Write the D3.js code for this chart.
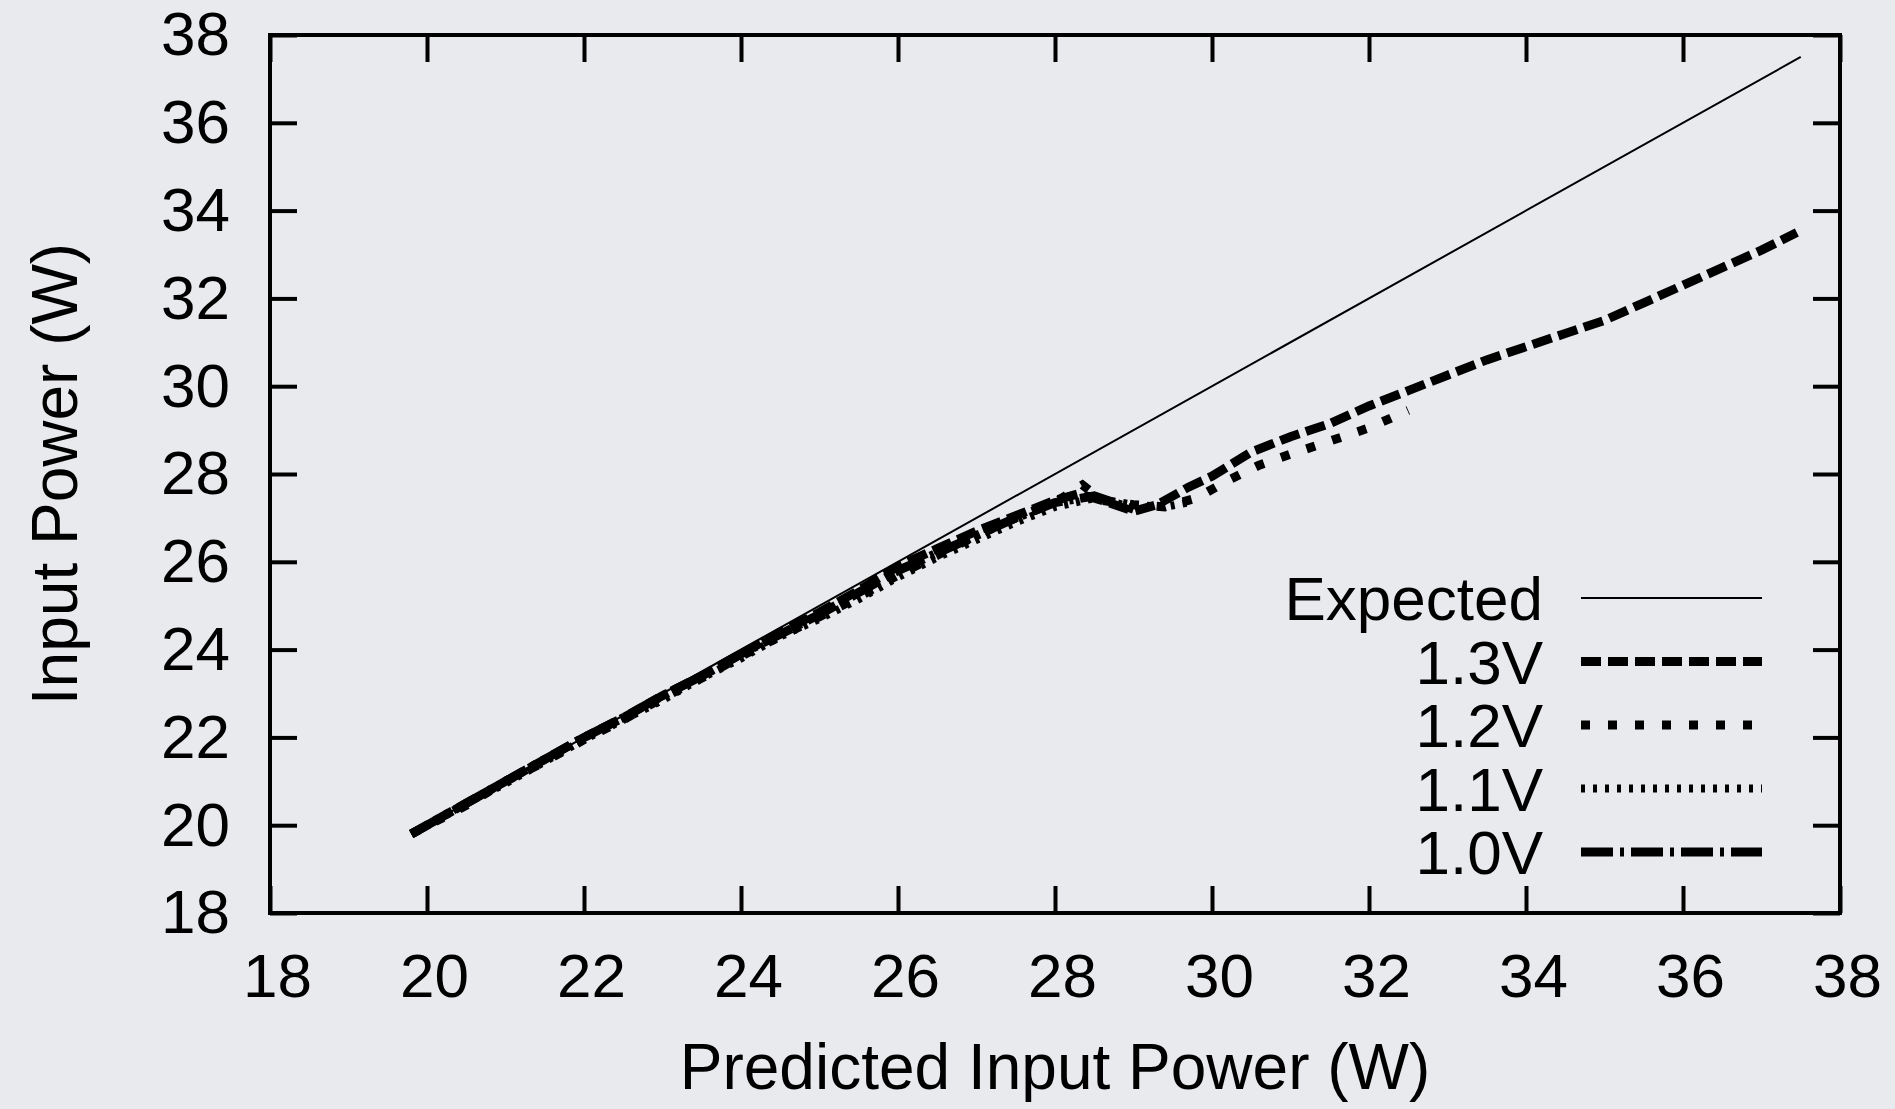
<!DOCTYPE html>
<html>
<head>
<meta charset="utf-8">
<script src="https://cdn.jsdelivr.net/npm/d3@7"></script>
<style>
  html, body { margin: 0; padding: 0; background: #e9eaee; }
  svg { display: block; }
  text { font-family: "Liberation Sans", Arial, Helvetica, sans-serif; fill: #000; }
</style>
</head>
<body>
<svg width="1895" height="1109"></svg>
<script>
// tick labels for both axes
const xTicks = [18, 20, 22, 24, 26, 28, 30, 32, 34, 36, 38];
const yTicks = [18, 20, 22, 24, 26, 28, 30, 32, 34, 36, 38];

const seriesNames = ["Expected", "1.3V", "1.2V", "1.1V", "1.0V"];

// predicted input power (x) and measured input power (y) per series
const expectedX = [19.8, 37.5];
const expectedY = [19.8, 37.5];

const v13X = [19.8, 20.5, 21, 21.5, 22, 22.5, 23, 23.5, 24, 24.5, 25, 25.5, 26, 26.5, 27, 27.5, 28, 28.3, 28.6, 29, 29.3, 29.7, 30, 30.5, 31, 31.5, 32, 32.5, 33, 33.5, 34, 34.5, 35, 35.5, 36, 36.5, 37, 37.45];
const v13Y = [19.8, 20.5, 21.0, 21.5, 22.0, 22.45, 22.95, 23.4, 23.9, 24.4, 24.85, 25.35, 25.9, 26.3, 26.7, 27.05, 27.4, 27.55, 27.4, 27.15, 27.3, 27.7, 27.95, 28.5, 28.85, 29.15, 29.55, 29.9, 30.25, 30.6, 30.9, 31.2, 31.5, 31.9, 32.3, 32.7, 33.1, 33.5];

const v12X = [19.8, 20.5, 21, 21.5, 22, 22.5, 23, 23.5, 24, 24.5, 25, 25.5, 26, 26.5, 27, 27.5, 28, 28.35, 28.6, 29, 29.4, 29.8, 30.2, 30.6, 31, 31.5, 32, 32.5];
const v12Y = [19.8, 20.45, 21.0, 21.45, 21.95, 22.4, 22.9, 23.35, 23.85, 24.3, 24.75, 25.2, 25.7, 26.15, 26.6, 27.0, 27.35, 27.75, 27.4, 27.3, 27.25, 27.45, 27.85, 28.2, 28.45, 28.75, 29.05, 29.45];

const v11X = [19.8, 20.5, 21, 21.5, 22, 22.5, 23, 23.5, 24, 24.5, 25, 25.5, 26, 26.5, 27, 27.5, 28, 28.5, 29, 29.4, 29.7];
const v11Y = [19.8, 20.5, 20.95, 21.45, 21.95, 22.4, 22.85, 23.35, 23.8, 24.3, 24.7, 25.15, 25.65, 26.1, 26.5, 26.9, 27.25, 27.45, 27.3, 27.25, 27.35];

const v10X = [19.8, 20.5, 21, 21.5, 22, 22.5, 23, 23.5, 24, 24.5, 25, 25.5, 26, 26.5, 27, 27.5, 28, 28.5, 29];
const v10Y = [19.8, 20.5, 21.0, 21.5, 22.0, 22.45, 22.95, 23.4, 23.9, 24.35, 24.8, 25.3, 25.8, 26.2, 26.6, 27.0, 27.35, 27.5, 27.2];

const svg = d3.select("svg"),
  margin = { top: 35, right: 55, bottom: 196, left: 270 },
  width = 1895 - margin.left - margin.right,
  height = 1109 - margin.top - margin.bottom,
  fontSize = 62,
  titleSize = 64;

const x = d3.scaleLinear().domain([18, 38]).range([0, width]);
const y = d3.scaleLinear().domain([18, 38]).range([height, 0]);

const g = svg.append("g").attr("transform", `translate(${margin.left},${margin.top})`);

//series table built from the arrays above
const series = [
  { name: seriesNames[0], xs: expectedX, ys: expectedY, width: 2, dash: null },
  { name: seriesNames[1], xs: v13X, ys: v13Y, width: 9, dash: "20,7" },
  { name: seriesNames[2], xs: v12X, ys: v12Y, width: 9, dash: "9,18" },
  { name: seriesNames[3], xs: v11X, ys: v11Y, width: 8, dash: "4,8" },
  { name: seriesNames[4], xs: v10X, ys: v10Y, width: 9, dash: "32,7,4,7" },
].map((s) => ({ ...s, points: s.xs.map((v, i) => [v, s.ys[i]]) }));

const line = d3.line().x((d) => x(d[0])).y((d) => y(d[1]));

// axes, ticks pointing inward on all four sides
const tickLen = 27;
const styleAxis = (a) => {
  a.select(".domain").remove();
  a.selectAll(".tick line").attr("stroke", "#000").attr("stroke-width", 4);
  a.selectAll(".tick text").attr("font-size", fontSize).attr("fill", "#000");
};

g.append("g")
  .attr("transform", `translate(0,${height})`)
  .call(d3.axisBottom(x).tickValues(xTicks).tickSize(-tickLen).tickPadding(40).tickFormat(d3.format("d")))
  .call(styleAxis)
  .call((a) => a.selectAll(".tick text").attr("dx", 7));

g.append("g")
  .call(d3.axisLeft(y).tickValues(yTicks).tickSize(-tickLen).tickPadding(40).tickFormat(d3.format("d")))
  .call(styleAxis);

g.append("g")
  .call(d3.axisTop(x).tickValues(xTicks).tickSize(-tickLen).tickFormat(""))
  .call(styleAxis);

g.append("g")
  .attr("transform", `translate(${width},0)`)
  .call(d3.axisRight(y).tickValues(yTicks).tickSize(-tickLen).tickFormat(""))
  .call(styleAxis);

// frame
g.append("rect")
  .attr("width", width)
  .attr("height", height)
  .attr("fill", "none")
  .attr("stroke", "#000")
  .attr("stroke-width", 4);

// data lines
g.selectAll(".series")
  .data(series)
  .join("path")
  .attr("class", "series")
  .attr("d", (d) => line(d.points))
  .attr("fill", "none")
  .attr("stroke", "#000")
  .attr("stroke-width", (d) => d.width)
  .attr("stroke-dasharray", (d) => d.dash);

// legend
const legend = g.append("g").attr("transform", `translate(${1543 - margin.left},${598 - margin.top})`);
const rowH = 63.5;
const rows = legend.selectAll("g").data(series).join("g").attr("transform", (d, i) => `translate(0,${i * rowH})`);
rows.append("text")
  .attr("text-anchor", "end")
  .attr("y", 22)
  .attr("font-size", fontSize)
  .text((d) => d.name);
rows.append("line")
  .attr("x1", 38)
  .attr("x2", 219)
  .attr("stroke", "#000")
  .attr("stroke-width", (d) => d.width)
  .attr("stroke-dasharray", (d) => d.dash);

// axis titles
svg.append("text")
  .attr("x", margin.left + width / 2)
  .attr("y", 1089)
  .attr("text-anchor", "middle")
  .attr("font-size", titleSize)
  .text("Predicted Input Power (W)");

svg.append("text")
  .attr("transform", `translate(77,${margin.top + height / 2}) rotate(-90)`)
  .attr("text-anchor", "middle")
  .attr("font-size", titleSize)
  .text("Input Power (W)");
</script>
</body>
</html>
